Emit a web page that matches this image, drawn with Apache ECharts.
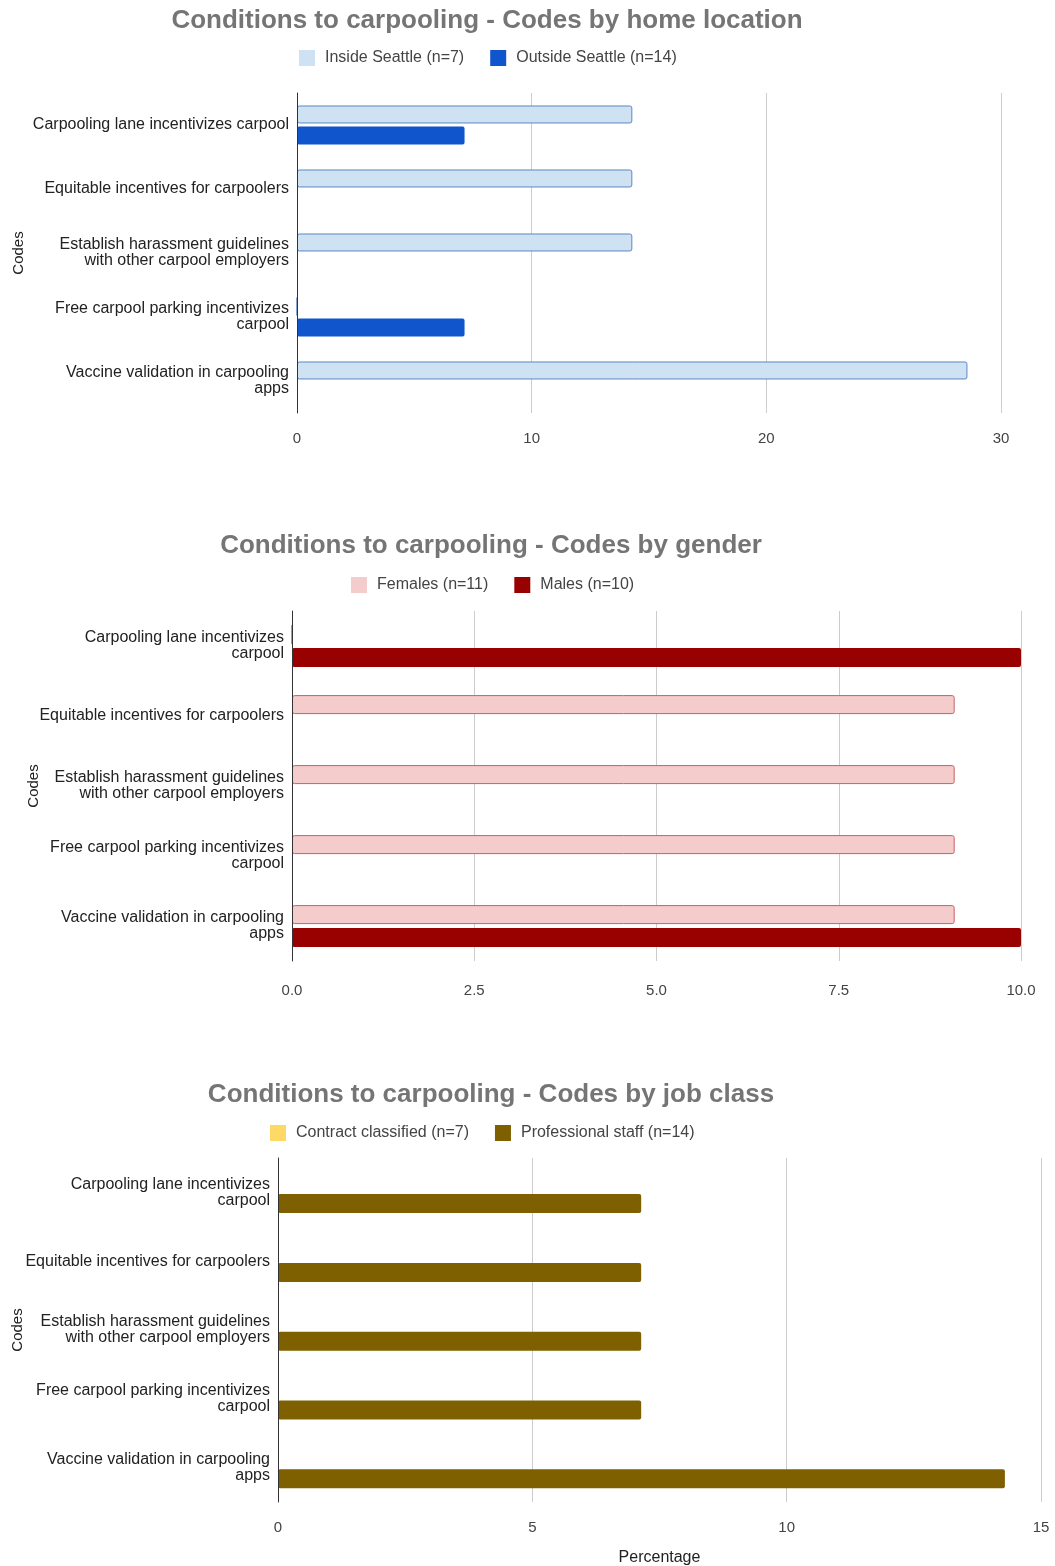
<!DOCTYPE html>
<html><head><meta charset="utf-8">
<script src="https://cdn.jsdelivr.net/npm/echarts@6/dist/echarts.min.js"></script>
<style>html,body{margin:0;padding:0;background:#fff}#c{width:1055px;height:1566px}</style>
</head><body><div id="c"></div>
<script>
// ---- data ----
const catsHome = ["Carpooling lane incentivizes carpool","Equitable incentives for carpoolers","Establish harassment guidelines\nwith other carpool employers","Free carpool parking incentivizes\ncarpool","Vaccine validation in carpooling\napps"];
const catsGender = ["Carpooling lane incentivizes\ncarpool","Equitable incentives for carpoolers","Establish harassment guidelines\nwith other carpool employers","Free carpool parking incentivizes\ncarpool","Vaccine validation in carpooling\napps"];
const catsJob = ["Carpooling lane incentivizes\ncarpool","Equitable incentives for carpoolers","Establish harassment guidelines\nwith other carpool employers","Free carpool parking incentivizes\ncarpool","Vaccine validation in carpooling\napps"];
const insideSeattle = [14.29, 14.29, 14.29, 0, 28.57];
const outsideSeattle = [7.14, 0, 0, 7.14, 0];
const females = [0, 9.09, 9.09, 9.09, 9.09];
const males = [10, 0, 0, 0, 10];
const contractClassified = [0, 0, 0, 0, 0];
const professionalStaff = [7.14, 7.14, 7.14, 7.14, 14.29];
const titles = ["Conditions to carpooling - Codes by home location","Conditions to carpooling - Codes by gender","Conditions to carpooling - Codes by job class"];
const names = [["Inside Seattle (n=7)","Outside Seattle (n=14)"],["Females (n=11)","Males (n=10)"],["Contract classified (n=7)","Professional staff (n=14)"]];
const xMax = [30, 10, 15];
const xInterval = [10, 2.5, 5];

// ---- layout ----
const FONT = "'Liberation Sans', Arial, sans-serif";
const grids = [
  {left:297, top:93, width:704, height:320, outerBoundsMode:'none', containLabel:false},
  {left:292, top:611, width:729, height:350, outerBoundsMode:'none', containLabel:false},
  {left:278, top:1158, width:763, height:344, outerBoundsMode:'none', containLabel:false}
];
const titleTops = [3, 528, 1077];
const titleCenters = [482, 486, 486];
const legendLefts = [294, 346, 265];
const legendTops = [45, 572, 1120];
const nameGaps = [271, 251, 253];
const labelMargins = [18, 22, 18];
const colors = [["#cfe2f3","#1155cc"],["#f4cccc","#990000"],["#ffd966","#7f6000"]];
const borders = [["#5b88c0",null],["#cc5f63",null],[null,null]];
const barW = [18, 19, 19];
const gaps = ['17%','20%','18%'];
const cats = [catsHome, catsGender, catsJob];
const vals = [[insideSeattle, outsideSeattle],[females, males],[contractClassified, professionalStaff]];

const option = {
  animation:false,
  textStyle:{fontFamily:FONT},
  title: titles.map((t,i)=>({text:t, left:titleCenters[i], top:titleTops[i], textAlign:'center',
    textStyle:{fontFamily:FONT, fontSize:26, fontWeight:'bold', color:'#757575'}})),
  legend: names.map((n,i)=>({data:n, left:legendLefts[i], top:legendTops[i], itemWidth:16, itemHeight:16, itemGap:26,
    icon:'rect', itemStyle:{borderWidth:0},
    textStyle:{fontFamily:FONT, fontSize:16, color:'#444', padding:[0,0,0,5]}})),
  grid: grids,
  xAxis: grids.map((g,i)=>({type:'value', gridIndex:i, min:0, max:xMax[i], interval:xInterval[i],
    axisLine:{show:false}, axisTick:{show:false},
    splitLine:{lineStyle:{color:'#cccccc', width:1}},
    axisLabel:{fontFamily:FONT, fontSize:15, color:'#444', margin:labelMargins[i],
      formatter: i===1 ? (v=>v.toFixed(1)) : (v=>String(v))},
    name: i===2 ? 'Percentage' : '', nameLocation:'middle', nameGap:48, nameMoveOverlap:false,
    nameTextStyle:{fontFamily:FONT, fontSize:16, color:'#222'}})),
  yAxis: grids.map((g,i)=>({type:'category', gridIndex:i, data:cats[i], inverse:true, z:5,
    axisLine:{show:true, lineStyle:{color:'#333', width:1}}, axisTick:{show:false},
    axisLabel:{fontFamily:FONT, fontSize:16, color:'#222', margin:8, lineHeight:16, align:'right'},
    name:'Codes', nameLocation:'middle', nameGap:nameGaps[i], nameRotate:90, nameMoveOverlap:false,
    nameTextStyle:{fontFamily:FONT, fontSize:15, color:'#222'}})),
  series: []
};
for (let i=0;i<3;i++){
  for (let s=0;s<2;s++){
    const b = borders[i][s];
    option.series.push({type:'bar', name:names[i][s], xAxisIndex:i, yAxisIndex:i,
      data:vals[i][s], barWidth:barW[i], barGap:gaps[i], z:2,
      itemStyle:{color:colors[i][s], borderColor:b||colors[i][s], borderWidth:b?1:0, borderRadius:2}});
  }
}
echarts.init(document.getElementById('c')).setOption(option);
</script></body></html>
